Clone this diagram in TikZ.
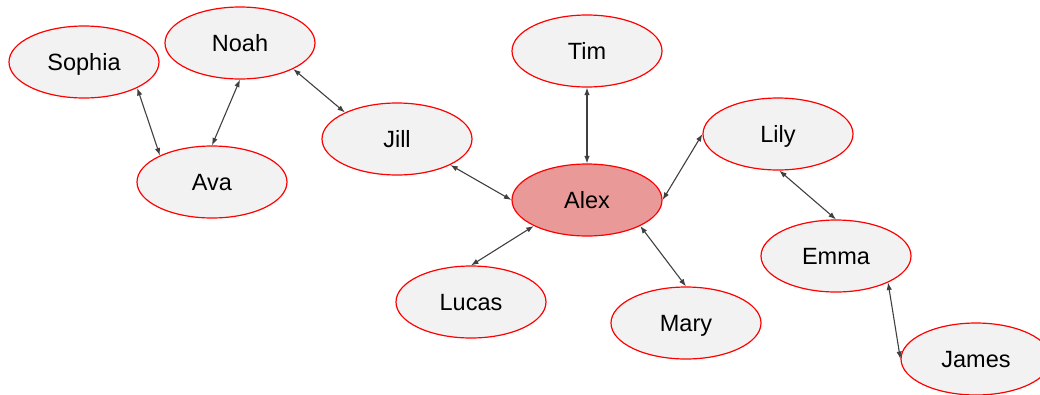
\documentclass[tikz,border=0pt]{standalone}
\usepackage{fontspec}
\setmainfont{Liberation Sans}
\usetikzlibrary{shapes.geometric,arrows.meta}
\definecolor{nodefill}{HTML}{F2F2F2}
\definecolor{hubfill}{HTML}{EA9999}
\definecolor{edgeline}{HTML}{404040}
\tikzset{
  person/.style={ellipse, draw=red, line width=1.2pt, fill=nodefill,
    minimum width=150pt, minimum height=72pt, inner sep=0pt,
    text height=16.8pt, text depth=0pt,
    font=\fontsize{23.5}{27}\selectfont},
  hub/.style={person, fill=hubfill},
  link/.style={draw=edgeline, line width=1.1pt,
    {Latex[length=7.5pt,width=5.5pt]}-{Latex[length=7.5pt,width=5.5pt]}}
}
\begin{document}
\begin{tikzpicture}[x=1pt,y=-1pt]
\useasboundingbox (0,0) rectangle (1040,394);
\clip (0,0) rectangle (1040,394);
% people
\node[person] (sophia) at (84,62)  {Sophia};
\node[person] (noah)   at (240,43) {Noah};
\node[person] (ava)    at (212,182) {Ava};
\node[person] (jill)   at (397,139) {Jill};
\node[person] (tim)    at (587,51) {Tim};
\node[hub]    (alex)   at (587,200) {Alex};
\node[person] (lily)   at (778,134) {Lily};
\node[person] (lucas)  at (471,302) {Lucas};
\node[person] (mary)   at (686,323) {Mary};
\node[person] (emma)   at (836,256) {Emma};
\node[person] (james)  at (976,359) {James};
% connections
\draw[link] (sophia.-26) -- (ava.153);
\draw[link] (noah.-90)   -- (ava.90);
\draw[link] (noah.-26)   -- (jill.153);
\draw[link] (jill.-26)   -- (alex.180);
\draw[link] (tim.-90)    -- (alex.90);
\draw[link] (alex.0)     -- (lily.180);
\draw[link] (alex.-154)  -- (lucas.90);
\draw[link] (alex.-26)   -- (mary.90);
\draw[link] (lily.-88)   -- (emma.90);
\draw[link] (emma.-27)   -- (james.180);
\end{tikzpicture}
\end{document}
